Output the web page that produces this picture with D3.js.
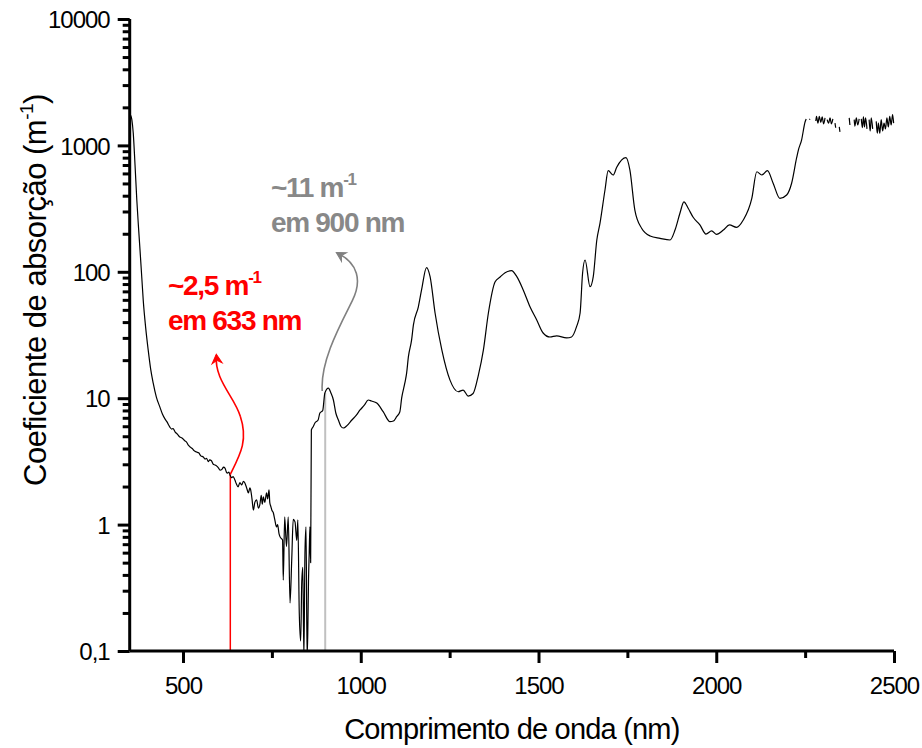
<!DOCTYPE html>
<html><head><meta charset="utf-8">
<script src="https://cdn.jsdelivr.net/npm/d3@7"></script>
<style>
html,body{margin:0;padding:0;background:#fff;}
text{font-family:"Liberation Sans",Arial,sans-serif;}
</style></head>
<body><svg id="c" width="922" height="748"></svg>
<script>
const wavelength = [352,356,360,365,370,375,379,384,388,395,402,409,416,425,435,442,450,455,460,463,468,472,478,484,491,497,505,510,515,520,526,531,538,544,550,557,562,566,571,575,580,585,590,595,600,604,610,614,618,622,625,629,632,637,641,646,650,655,660,665,670,674,679,684,688,690,694,698,702,707,712,716,720,723,726,730,735,738,742,744,747,750,754,758,763,766,770,773,780,782,786,791,796,801,806,810,815,820,823,827,831,834,837,840,843,846,849,851,853,855,857,859,861,866,871,880,885,893,899,909,916,923,930,937,944,951,962,975,987,998,1010,1021,1030,1045,1063,1082,1092,1101,1110,1115,1124,1129,1134,1143,1148,1162,1171,1185,1195,1209,1228,1251,1274,1288,1302,1316,1331,1345,1359,1378,1392,1406,1424,1439,1457,1476,1495,1513,1532,1551,1579,1593,1607,1617,1624,1631,1645,1654,1664,1673,1687,1696,1710,1720,1746,1757,1771,1790,1814,1842,1870,1884,1898,1909,1921,1935,1954,1971,1987,2001,2020,2037,2057,2076,2100,2114,2128,2144,2160,2179,2198,2212,2226,2231,2240,2250,2253,2258,2262,2264,2270,2280,2282,2286,2290,2294,2298,2302,2306,2309,2312,2316,2320,2324,2328,2331,2334,2336,2340,2346,2348,2360,2374,2376,2380,2388,2390,2394,2398,2402,2405,2408,2411,2414,2417,2420,2424,2427,2430,2433,2436,2440,2445,2450,2453,2456,2460,2464,2468,2472,2476,2480,2484,2488,2492,2496,2499];
const absorption = [1750,1600,1250,700,370,220,149,90,60,36,24.1,17,13.2,10.2,8.5,7.5,6.8,6.5,6.1,5.9,5.7,5.75,5.4,5.2,4.93,4.85,4.6,4.5,4.25,4.11,4.0,3.85,3.75,3.7,3.5,3.43,3.3,3.35,3.15,3.25,3.2,3.0,2.96,2.9,2.8,2.7,2.75,2.85,2.8,2.6,2.55,2.6,2.47,2.35,2.4,2.25,2.1,1.99,2.15,2.06,2.2,2.13,1.95,1.78,1.95,1.9,1.6,1.3,1.5,1.57,1.35,1.43,1.7,1.45,1.66,1.5,1.78,1.6,1.88,1.5,1.39,1.3,1.24,1.1,0.96,1.0,0.85,0.8,0.755,0.364,1.15,0.67,1.15,0.24,0.55,1.1,1.05,0.75,1.09,0.2,0.12,0.35,0.46,0.09,0.6,0.96,0.09,0.14,0.36,0.6,0.96,0.5,5.6,5.95,6.37,6.72,7.64,8.0,11.0,12.0,11.0,9.68,7.6,6.72,6.0,5.81,6.1,6.72,7.3,8.07,8.8,9.68,9.5,9.16,7.82,6.52,6.6,7.14,7.82,10.0,13.2,15.8,21.3,28.9,37.9,52.9,71.8,108,91.5,47.2,24.1,13.9,11.25,11.6,10.4,10.9,15.3,24.1,47.2,83.5,90.9,98.4,102,91.5,71.8,52.9,41.6,32.8,30.5,31.1,30.0,30.5,36.8,47.2,97.8,124,76.2,91.5,178.5,243,444,631,583,671,799,639,308,221,192,184,178.5,214,292,358,318,270,235,199,211,198,214,235,225,257,381,619,583,631,502,381,405,502,795,919,1103,1540,1620,null,1600,1620,null,1560,1700,1500,1700,1520,1680,1480,1650,null,1600,1500,1650,1480,1620,null,1500,1380,null,1400,1280,null,1650,1450,null,1600,1420,1650,1450,1620,null,1620,1380,1680,1400,1650,1350,null,1600,1300,1650,1350,null,1550,1250,1500,1250,1600,1300,1500,1350,1650,1400,1700,1450,1750,1500];
const xTicks = [500,1000,1500,2000,2500];
const xMinorTicks = [750,1250,1750,2250];
const yTicks = [0.1,1,10,100,1000,10000];
const yTickLabels = ["0,1","1","10","100","1000","10000"];
const marker633 = {nm:633, value:2.5};
const marker900 = {nm:900, value:11};

const svg = d3.select("#c");
const x = d3.scaleLinear().domain([350,2500]).range([129.7,894]);
const y = d3.scaleLog().domain([0.1,10000]).range([651,19]);

svg.append("defs").append("clipPath").attr("id","clip")
  .append("rect").attr("x",129.7).attr("y",10).attr("width",770).attr("height",641);

// markers (vertical lines)
svg.append("line").attr("x1",x(marker633.nm)).attr("x2",x(marker633.nm))
  .attr("y1",y(0.1)).attr("y2",y(marker633.value)).attr("stroke","#ff0000").attr("stroke-width",1.5);
svg.append("line").attr("x1",x(marker900.nm)).attr("x2",x(marker900.nm))
  .attr("y1",y(0.1)).attr("y2",y(marker900.value)).attr("stroke","#c0c0c0").attr("stroke-width",2);

// spectrum
const data = wavelength.map((w,i)=>({w, v:absorption[i]}));
svg.append("path").datum(data).attr("clip-path","url(#clip)")
  .attr("d", d3.line().defined(d=>d.v!=null).curve(d3.curveMonotoneX).x(d=>x(d.w)).y(d=>y(d.v)))
  .attr("fill","none").attr("stroke","#000").attr("stroke-width",1.2).attr("stroke-linejoin","round");

// annotation arrows
const rx = x(marker633.nm), ry = y(marker633.value);
svg.append("path").attr("d",`M${rx},${ry} C${rx+10},${ry-20} ${rx+18},${ry-34} ${rx+10},${ry-58} C${rx+4},${ry-78} ${rx-16},${ry-94} ${rx-14},${ry-119}`)
  .attr("fill","none").attr("stroke","#ff0000").attr("stroke-width",1.6);
function head(tx,ty,ang,col){
  const g = svg.append("g").attr("transform",`translate(${tx},${ty}) rotate(${ang})`);
  g.append("path").attr("d","M0,0 L-5,9 L0,6 L5,9 Z").attr("fill",col).attr("stroke",col).attr("stroke-width",1);
}
head(rx-14, ry-120, -5, "#ff0000");
const gx = x(marker900.nm), gy = y(marker900.value);
svg.append("path").attr("d",`M${gx-3},${gy-2} C${gx-5},${gy-32} ${gx+15},${gy-68} ${gx+27},${gy-92} C${gx+37},${gy-112} ${gx+33},${gy-130} ${gx+12},${gy-140}`)
  .attr("fill","none").attr("stroke","#808080").attr("stroke-width",1.6);
head(gx+11, gy-140.5, -60, "#808080");

// annotation texts
function ann(tx,ty,lines,col){
  lines.forEach((l,i)=>{
    const t = svg.append("text").attr("x",tx).attr("y",ty+i*35).attr("fill",col)
      .attr("font-size",28).attr("font-weight","bold").attr("letter-spacing",-1.3);
    t.append("tspan").text(l[0]);
    if(l[1]) t.append("tspan").attr("font-size",17).attr("dy",-12).text(l[1]);
  });
}
ann(168,295,[["~2,5 m","-1"],["em 633 nm"]],"#ff0000");
ann(271,197,[["~11 m","-1"],["em 900 nm"]],"#888888");

// axes
const ax = svg.append("g");
ax.append("line").attr("x1",x(350)).attr("x2",x(2500)).attr("y1",651).attr("y2",651).attr("stroke","#000").attr("stroke-width",3);
ax.append("line").attr("x1",x(350)).attr("x2",x(350)).attr("y1",651).attr("y2",19).attr("stroke","#000").attr("stroke-width",3);

const xa = svg.append("g").attr("transform","translate(0,651)")
  .call(d3.axisBottom(x).tickValues(xTicks).tickSize(12).tickPadding(14).tickFormat(d3.format("d")));
const xm = svg.append("g").attr("transform","translate(0,651)")
  .call(d3.axisBottom(x).tickValues(xMinorTicks).tickSize(7).tickFormat(""));
const yMinor = [];
for(let e=-1;e<4;e++) for(let k=2;k<10;k++) yMinor.push(k*Math.pow(10,e));
const ya = svg.append("g").attr("transform",`translate(${x(350)},0)`)
  .call(d3.axisLeft(y).tickValues(yTicks).tickSize(12).tickPadding(8).tickFormat((d,i)=>yTickLabels[i]));
const ym = svg.append("g").attr("transform",`translate(${x(350)},0)`)
  .call(d3.axisLeft(y).tickValues(yMinor).tickSize(7).tickFormat(""));
[xa,xm,ya,ym].forEach(g=>{
  g.select(".domain").remove();
  g.selectAll(".tick line").attr("stroke","#000").attr("stroke-width",3);
  g.selectAll("text").attr("font-size",24).attr("letter-spacing",-1).attr("fill","#000")
   .style("font-family","'Liberation Sans',Arial,sans-serif");
});
ya.selectAll("text").attr("dy","0.36em");

// axis titles
svg.append("text").attr("x",(x(350)+x(2500))/2).attr("y",739).attr("text-anchor","middle")
  .attr("font-size",29).attr("letter-spacing",-0.8).text("Comprimento de onda (nm)");
const yt = svg.append("text").attr("transform","translate(46,290) rotate(-90)").attr("text-anchor","middle")
  .attr("font-size",31).attr("letter-spacing",-0.5);
yt.append("tspan").text("Coeficiente de absorção (m");
yt.append("tspan").attr("font-size",19).attr("dy",-13).text("-1");
yt.append("tspan").attr("dy",13).text(")");
</script></body></html>
